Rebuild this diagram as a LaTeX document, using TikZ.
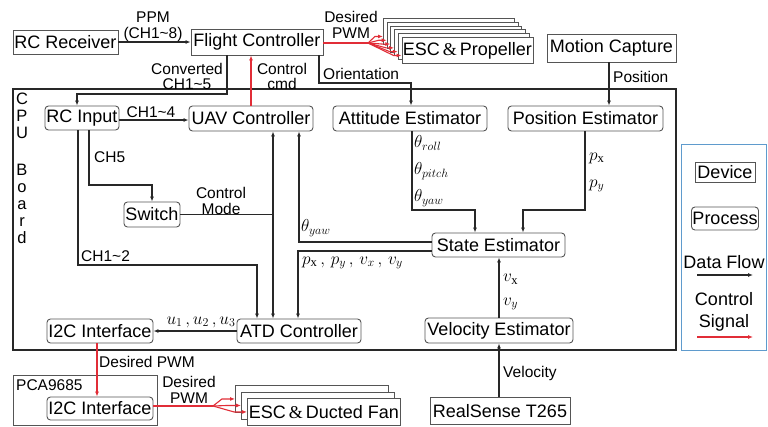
\documentclass[tikz,border=0pt]{standalone}
\usepackage{amsmath}
\usepackage{fontspec}
\setmainfont{Liberation Sans}
\setsansfont{Liberation Sans}
\newfontfamily\serifamp{Liberation Serif}
\usetikzlibrary{arrows.meta}
\definecolor{boxgray}{RGB}{85,85,85}
\definecolor{linegray}{RGB}{40,40,40}
\definecolor{sigred}{RGB}{225,45,55}
\definecolor{legblue}{RGB}{95,155,205}
\newcommand\mainfs{\fontsize{18}{20}\selectfont}
\newcommand\lblfs{\fontsize{15.5}{15.5}\selectfont}
\newcommand\myamp{{\serifamp\&}}
\newcommand\ux{\text{\serifamp x}}
\begin{document}
\begin{tikzpicture}[x=1pt,y=-1pt,
  dev/.style={draw=boxgray, line width=0.9pt, fill=white, inner xsep=1pt, inner ysep=0pt, font=\mainfs},
  proc/.style={dev, rounded corners=3.5pt},
  lbl/.style={font=\lblfs, inner sep=0pt, align=center},
  mlbl/.style={font=\fontsize{18}{18}\selectfont, inner sep=0pt},
  flow/.style={draw=linegray, line width=1.1pt, -{Latex[length=5pt,width=4pt]}},
  wire/.style={draw=linegray, line width=1.1pt},
  ctrl/.style={draw=sigred, line width=1.1pt, -{Latex[length=5pt,width=4pt]}},
  ctrlwire/.style={draw=sigred, line width=1.1pt},
]
\useasboundingbox (0,0) rectangle (768,426);
\fill[white] (0,0) rectangle (768,426);

% CPU board
\draw[linegray, line width=2pt] (13,89) rectangle (676,350);
\node[font=\fontsize{16.5}{17}\selectfont, align=center, inner sep=0pt, anchor=north] (cpu) at (22,93) {C\\P\\U\\[20pt]B\\o\\a\\r\\d};

% legend
\draw[legblue, line width=1pt] (681,144) rectangle (766,350);
\node[dev, minimum width=60pt, minimum height=20pt] (lgdev) at (725,172) {Device};
\node[proc, minimum width=66pt, minimum height=23pt] (lgproc) at (725,218.5) {Process};
\node[font=\mainfs, inner sep=0pt] (lgflow) at (724,262) {Data Flow};
\coordinate (lgf1) at (697,275); \coordinate (lgf2) at (753,275);
\draw[flow] (lgf1) -- (lgf2);
\node[font=\mainfs, inner sep=0pt, align=center] (lgsig) at (724,312) {Control\\[2pt]Signal};
\coordinate (lgs1) at (697,337); \coordinate (lgs2) at (753,337);
\draw[ctrl] (lgs1) -- (lgs2);

% devices top
\node[dev, minimum width=105pt, minimum height=24pt] (rcr) at (65.5,42) {RC Receiver};
\node[dev, minimum width=132pt, minimum height=26pt] (fc) at (257,42) {Flight Controller};
\foreach \i in {0,...,4}{
  \node[dev, minimum width=131pt, minimum height=26pt, anchor=north west] (escb\i) at ({383+3.7*\i},{18+3.8*\i}) {};
}
\node[dev, minimum width=131pt, minimum height=26pt, anchor=north west] (escb5) at (401.5,37) {ESC\,\myamp\,Propeller};
\node[dev, minimum width=129pt, minimum height=28pt] (mc) at (611.5,48) {Motion Capture};

% processes
\node[proc, minimum width=74pt, minimum height=24pt] (rci) at (82,118) {RC Input};
\node[proc, minimum width=124pt, minimum height=25pt] (uav) at (251,118.5) {UAV Controller};
\node[proc, minimum width=154pt, minimum height=25pt] (att) at (410,118.5) {Attitude Estimator};
\node[proc, minimum width=155pt, minimum height=25pt] (pos) at (585.5,118.5) {Position Estimator};
\node[proc, minimum width=56pt, minimum height=25pt] (sw) at (152,214.5) {Switch};
\node[proc, minimum width=133pt, minimum height=24pt] (se) at (498.5,245) {State Estimator};
\node[proc, minimum width=124pt, minimum height=24pt] (atd) at (299,331) {ATD Controller};
\node[proc, minimum width=106pt, minimum height=24pt] (i2ca) at (100,331) {I2C Interface};
\node[proc, minimum width=148pt, minimum height=25pt] (ve) at (499,330.5) {Velocity Estimator};

% bottom devices
\node[dev, minimum width=140pt, minimum height=27pt] (rs) at (500,411) {RealSense T265};
\node[dev, minimum width=144pt, minimum height=50pt] (pca) at (85,400) {};
\node[font=\lblfs, inner sep=0pt, anchor=north west] (pcalbl) at (16,379) {PCA9685};
\node[proc, minimum width=106pt, minimum height=23pt] (i2cb) at (100,408.5) {I2C Interface};
\node[dev, minimum width=153pt, minimum height=27pt, anchor=north west] (edfb0) at (235,385) {};
\node[dev, minimum width=153pt, minimum height=27pt, anchor=north west] (edfb1) at (241,391.5) {};
\node[dev, minimum width=153pt, minimum height=27pt, anchor=north west] (edfb2) at (247,398) {ESC\,\myamp\,Ducted Fan};

% RC receiver -> FC
\draw[flow] (rcr.east) -- (fc.west);
\node[lbl] (ppm) at (153,17) {PPM};
\node[lbl] (ppmch) at (153,34) {(CH1\textasciitilde8)};

% FC -> ESC propeller
\coordinate (fcsplit) at (368,43);
\draw[ctrlwire] (fc.east |- fcsplit) -- (fcsplit);
\foreach \i in {0,...,5}{
  \draw[ctrl] (fcsplit) -- ([xshift=-8pt,yshift=-5pt]escb\i.west) -- ([yshift=-5pt]escb\i.west);
}
\node[lbl] (dpwm1) at (351,25) {Desired\\PWM};

% FC -> RC input
\coordinate (cv1) at (227,94);
\coordinate (cv2) at (77,94);
\draw[flow] (fc.south -| cv1) -- (cv1) -- (cv2) -- (rci.north -| cv2);
\node[lbl] (convlbl) at (187,76.5) {Converted\\CH1\textasciitilde5};

% UAV -> FC control cmd
\draw[ctrl] (uav.north) -- (uav.north |- fc.south);
\node[lbl] (cmdlbl) at (282,76.5) {Control\\cmd};

% FC -> Attitude orientation
\coordinate (or1) at (319,83);
\coordinate (or2) at (411,83);
\draw[flow] (fc.south -| or1) -- (or1) -- (or2) -- (att.north -| or2);
\node[lbl, anchor=west] (orlbl) at (323,74) {Orientation};

% RC input -> UAV
\coordinate (ch4) at (0,120);
\draw[flow] (rci.east |- ch4) -- (uav.west |- ch4);
\node[lbl] (ch4lbl) at (151,112) {CH1\textasciitilde4};

% Motion capture -> position
\coordinate (mcx) at (609,0);
\draw[flow] (mc.south -| mcx) -- (pos.north -| mcx);
\node[lbl, anchor=west] (poslbl) at (613,77) {Position};

% attitude -> state
\coordinate (at1) at (412,210);
\coordinate (at2) at (475,210);
\draw[flow] (att.south -| at1) -- (at1) -- (at2) -- (se.north -| at2);
\node[mlbl, anchor=west] (th1) at (414,143) {$\theta_{roll}$};
\node[mlbl, anchor=west] (th2) at (414,171) {$\theta_{pitch}$};
\node[mlbl, anchor=west] (th3) at (414,198) {$\theta_{yaw}$};

% position -> state
\coordinate (ps1) at (585,210);
\coordinate (ps2) at (523,210);
\draw[flow] (pos.south -| ps1) -- (ps1) -- (ps2) -- (se.north -| ps2);
\node[mlbl, anchor=west] (px) at (589,158) {$p_{\ux}$};
\node[mlbl, anchor=west] (py) at (589,186) {$p_{y}$};

% CH5 -> switch
\coordinate (c51) at (89,185);
\coordinate (c52) at (152,185);
\draw[flow] (rci.south -| c51) -- (c51) -- (c52) -- (sw.north);
\node[lbl, anchor=west] (ch5lbl) at (94,157) {CH5};

% CH1~2 -> ATD
\coordinate (c21) at (78,265);
\coordinate (c22) at (257,265);
\draw[flow] (rci.south -| c21) -- (c21) -- (c22) -- (atd.north -| c22);
\node[lbl, anchor=west] (ch2lbl) at (81,256) {CH1\textasciitilde2};

% Switch -> control mode bus
\coordinate (cmx) at (273,0);
\draw[wire] (sw.east) -- (sw.east -| cmx);
\draw[draw=linegray, line width=1.1pt, {Latex[length=5pt,width=4pt]}-{Latex[length=5pt,width=4pt]}] (uav.south -| cmx) -- (atd.north -| cmx);
\node[lbl] (cmlbl) at (221,201) {Control\\Mode};

% state -> UAV (theta yaw)
\coordinate (ty) at (299,242);
\draw[flow] (se.west |- ty) -- (ty) -- (uav.south -| ty);
\node[mlbl, anchor=west] (tylbl) at (301,228) {$\theta_{yaw}$};

% state -> ATD (p, v)
\coordinate (pv) at (298,251);
\draw[flow] (se.west |- pv) -- (pv) -- (atd.north -| pv);
\node[mlbl, anchor=west] (pvlbl) at (302,263) {$p_{\ux}\,,\,p_{y}\,,\,v_{x}\,,\,v_{y}$};

% ATD -> I2C
\draw[flow] (atd.west) -- (i2ca.east);
\node[mlbl] (ulbl) at (201,322) {$u_1\,,u_2\,,u_3$};

% I2C -> PCA I2C
\coordinate (dp) at (97,0);
\draw[ctrl] (i2ca.south -| dp) -- (i2cb.north -| dp);
\node[lbl, anchor=west] (dpwm2) at (99,362) {Desired PWM};

% PCA I2C -> ducted fans
\coordinate (edfsplit) at (213,406);
\draw[ctrlwire] (i2cb.east |- edfsplit) -- (edfsplit);
\foreach \i in {0,1,2}{
  \draw[ctrl] (edfsplit) -- ([xshift=-13pt]edfb\i.west) -- (edfb\i.west);
}
\node[lbl] (dpwm3) at (189,390) {Desired\\PWM};

% velocity
\coordinate (vx) at (499,0);
\draw[flow] (ve.north -| vx) -- (se.south -| vx);
\node[mlbl, anchor=west] (vxlbl) at (503,279) {$v_{\ux}$};
\node[mlbl, anchor=west] (vylbl) at (503,304) {$v_{y}$};
\draw[flow] (rs.north -| vx) -- (ve.south -| vx);
\node[lbl, anchor=west] (vellbl) at (503,373) {Velocity};
\end{tikzpicture}
\end{document}
